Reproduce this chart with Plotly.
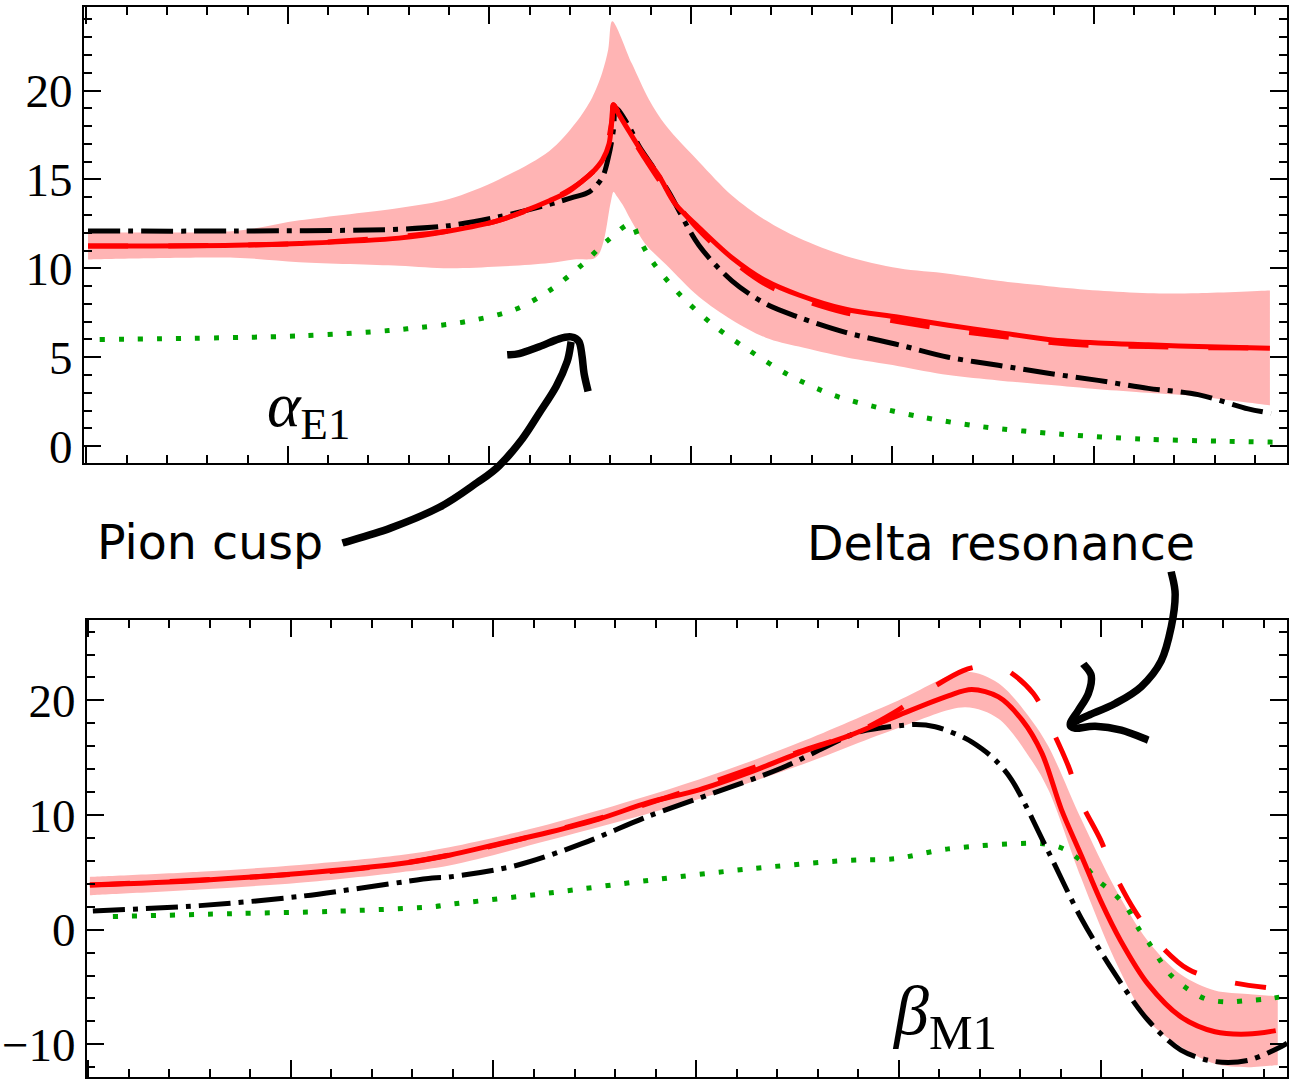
import plotly.graph_objects as go

W, H = 1289, 1090

# ---------------- top panel (alpha_E1) ----------------
top_red_x = [0.4, 36.8, 52.9, 77.6, 90.0, 102.4, 108.5, 114.9, 119.5, 123.0, 125.6, 128.1, 129.7, 130.4, 130.8,
             131.5, 133.9, 138.0, 142.1, 146.2, 152.0, 160.2, 168.6, 176.8, 188.4, 201.6, 213.9, 226.3, 238.7,
             251.1, 263.5, 275.9, 293.7]
top_red_y = [11.25, 11.3, 11.4, 11.7, 12.1, 12.7, 13.2, 13.8, 14.3, 14.9, 15.4, 16.1, 17.0, 18.3, 19.2,
             18.9, 18.0, 16.5, 15.2, 13.6, 12.3, 10.6, 9.3, 8.5, 7.7, 7.25, 6.8, 6.4, 6.0,
             5.8, 5.7, 5.6, 5.5]

top_red_dash_x = [0.4, 52.9, 90.0, 102.4, 114.9, 123.0, 128.1, 130.4, 130.8, 133.9, 138.0, 143.9, 152.0, 160.2,
                  168.6, 176.8, 188.4, 201.6, 213.9, 226.3, 238.7, 251.1, 263.5, 275.9, 293.7]
top_red_dash_y = [11.25, 11.4, 12.1, 12.7, 13.8, 14.9, 16.1, 18.3, 19.2, 17.9, 16.4, 14.4, 12.15, 10.45,
                  9.1, 8.3, 7.5, 7.0, 6.55, 6.2, 5.85, 5.65, 5.6, 5.55, 5.5]

top_band_up_x = [0.4, 36.8, 52.9, 77.6, 90.0, 102.4, 114.9, 121.5, 125.5, 128.0, 129.5, 130.5,
                 135.4, 139.6, 143.9, 152.0, 160.2, 168.6, 176.8, 188.4, 201.6, 213.9, 226.3, 238.7, 251.1,
                 263.5, 275.9, 293.7]
top_band_up_y = [12.05, 12.1, 12.7, 13.4, 13.9, 15.0, 16.6, 18.2, 19.6, 21.0, 22.3, 23.9,
                 21.5, 19.5, 18.0, 16.0, 14.1, 12.7, 11.7, 10.7, 10.0, 9.7, 9.3, 9.0, 8.75,
                 8.6, 8.6, 8.75]
top_band_lo_x = [0.4, 36.8, 52.9, 77.6, 90.0, 102.4, 114.9, 121.0, 126.0, 127.2, 128.2, 128.9, 129.7, 130.2,
                 130.8, 131.5, 133.0, 135.4, 138.6, 143.9, 152.0, 160.2, 168.6, 176.8, 188.4, 201.6, 213.9,
                 226.3, 238.7, 251.1, 263.5, 275.9, 293.7]
top_band_lo_y = [10.5, 10.6, 10.35, 10.15, 10.0, 10.1, 10.3, 10.5, 10.55, 10.8, 11.4, 12.1, 13.2, 13.8,
                 14.3, 14.1, 13.6, 12.6, 11.4, 10.2, 8.4, 7.1, 6.1, 5.6, 5.0, 4.5, 4.0,
                 3.7, 3.45, 3.2, 3.0, 2.8, 2.3]

top_black_x = [0.4, 36.8, 77.6, 90.0, 102.4, 114.9, 120.9, 124.8, 128.0, 129.7, 130.8, 131.4, 134.6, 137.1,
               140.3, 144.5, 152.0, 160.2, 168.6, 176.8, 188.4, 201.6, 213.9, 226.3, 238.7, 251.1, 263.5,
               275.9, 288.3, 294.0]
top_black_y = [12.1, 12.1, 12.2, 12.4, 12.9, 13.6, 14.0, 14.3, 15.1, 16.4, 17.8, 19.0, 18.0, 16.9,
               15.8, 14.3, 11.3, 9.3, 8.0, 7.25, 6.4, 5.7, 5.0, 4.55, 4.1, 3.7, 3.25,
               2.9, 2.1, 1.85]

top_green_x = [3.3, 52.9, 75.0, 79.6, 94.1, 106.5, 114.9, 123.0, 129.0, 135.2, 137.1, 140.4, 147.8, 156.2,
               164.4, 174.3, 185.0, 192.4, 206.5, 222.1, 241.9, 261.8, 281.6, 296.5]
top_green_y = [6.0, 6.2, 6.5, 6.6, 7.0, 7.7, 8.75, 10.2, 11.5, 12.5, 11.7, 10.4, 8.4, 6.7,
               5.4, 4.0, 2.9, 2.4, 1.67, 1.1, 0.67, 0.4, 0.28, 0.22]

top_yticks = [0, 5, 10, 15, 20]

# ---------------- bottom panel (beta_M1) ----------------
bot_red_x = [0.42, 27.5, 52.1, 76.8, 89.1, 101.4, 113.7, 126.0, 138.3, 150.7, 163.0, 175.3, 187.6, 199.9,
             212.2, 218.0, 224.6, 230.4, 235.3, 240.1, 245.0, 249.9, 254.8, 261.5, 269.6, 278.0, 286.1, 293.0]
bot_red_y = [3.9, 4.3, 4.9, 5.75, 6.5, 7.5, 8.5, 9.65, 11.1, 12.2, 13.7, 15.4, 16.9, 18.7,
             20.4, 20.95, 20.3, 18.3, 15.4, 10.5, 6.5, 2.45, -1.0, -4.75, -7.6, -8.9, -9.1, -8.8]

bot_red_dash_x = [0.42, 76.8, 126.0, 175.3, 190.1, 198.7, 207.3, 215.9, 220.9, 225.8, 233.2, 237.6, 241.8,
                  245.0, 249.7, 253.4, 258.3, 264.0, 271.4, 280.7, 290.6]
bot_red_dash_y = [3.9, 5.75, 9.7, 15.5, 17.3, 18.9, 20.9, 22.6, 23.0, 22.8, 20.6, 17.6, 14.3,
                  11.1, 7.9, 4.75, 1.6, -1.15, -3.45, -4.5, -5.05]

bot_band_x = [0.42, 27.5, 52.1, 76.8, 89.1, 113.7, 150.7, 175.3, 199.9, 216.4, 224.6, 232.7, 236.9, 245.0,
              253.4, 261.5, 269.6, 278.0, 286.1, 293.5]
bot_band_up = [4.6, 5.05, 5.65, 6.5, 7.2, 9.2, 13.1, 16.3, 20.0, 22.5, 21.5, 18.3, 16.0, 9.65,
               3.6, -1.0, -3.9, -5.3, -5.6, -5.8]
bot_band_lo = [3.0, 3.5, 4.1, 5.0, 5.6, 7.8, 11.4, 14.3, 17.6, 19.4, 18.4, 14.8, 12.2, 4.5,
               -2.7, -7.9, -10.2, -11.7, -12.0, -11.8]

bot_black_x = [1.16, 27.5, 52.1, 84.9, 89.1, 105.6, 121.8, 138.3, 154.9, 171.1, 187.6, 190.8, 204.1, 209.0,
               216.4, 220.4, 223.8, 227.8, 236.9, 245.0, 253.4, 261.5, 269.6, 278.0, 286.1, 294.3, 295.8]
bot_black_y = [1.64, 2.1, 2.9, 4.5, 4.6, 5.6, 7.5, 9.9, 12.0, 14.1, 16.9, 17.3, 17.9, 17.7,
               16.7, 15.8, 14.8, 13.1, 6.8, 1.0, -3.9, -7.9, -10.5, -11.5, -11.4, -10.2, -9.9]

bot_green_x = [6.1, 35.6, 60.3, 84.9, 89.1, 113.7, 138.3, 163.0, 187.6, 199.2, 212.2, 235.6, 241.0, 245.2,
               248.5, 253.4, 256.6, 259.1, 262.0, 264.5, 267.2, 271.4, 275.8, 280.7, 285.4, 290.6, 295.3]
bot_green_y = [1.15, 1.4, 1.6, 2.0, 2.2, 3.2, 4.3, 5.3, 6.05, 6.2, 7.05, 7.5, 7.0, 5.9,
               4.5, 3.05, 1.75, 0.14, -1.3, -2.7, -4.0, -5.2, -6.05, -6.3, -6.2, -6.05, -5.8]

bot_yticks = [-10, 0, 10, 20]

# ---------------- styles ----------------
RED = "#ff0000"
BAND = "rgb(255,180,180)"
GREEN = "#00a400"
DASHDOT = "32px,8px,5px,8px"
DOTTED = "5px,14px"
DASHED = "40px,40px"
LW = 5
SM = 0.9

fig = go.Figure()


def add_panel(xa, ya, band_x_up, band_up, band_x_lo, band_lo, green, black, rdash, rsol):
    bx_up, by_up = list(band_x_up), list(band_up)
    bx_lo, by_lo = list(band_x_lo)[::-1], list(band_lo)[::-1]
    # duplicate corner points so the smoothed outline keeps sharp vertical ends
    bx = [bx_up[0]] + bx_up + [bx_up[-1]] + [bx_lo[0]] + bx_lo + [bx_lo[-1]]
    by = [by_up[0]] + by_up + [by_up[-1]] + [by_lo[0]] + by_lo + [by_lo[-1]]
    fig.add_trace(go.Scatter(x=bx, y=by, fill="toself", fillcolor=BAND,
                             line=dict(width=0, shape="spline", smoothing=SM), mode="lines",
                             xaxis=xa, yaxis=ya, hoverinfo="skip"))
    fig.add_trace(go.Scatter(x=green[0], y=green[1], mode="lines",
                             line=dict(color=GREEN, width=LW, dash=DOTTED, shape="spline", smoothing=SM),
                             xaxis=xa, yaxis=ya))
    fig.add_trace(go.Scatter(x=black[0], y=black[1], mode="lines",
                             line=dict(color="black", width=LW, dash=DASHDOT, shape="spline", smoothing=SM),
                             xaxis=xa, yaxis=ya))
    fig.add_trace(go.Scatter(x=rdash[0], y=rdash[1], mode="lines",
                             line=dict(color=RED, width=LW, dash=DASHED, shape="spline", smoothing=SM),
                             xaxis=xa, yaxis=ya))
    fig.add_trace(go.Scatter(x=rsol[0], y=rsol[1], mode="lines",
                             line=dict(color=RED, width=LW, shape="spline", smoothing=SM),
                             xaxis=xa, yaxis=ya))


add_panel("x", "y", top_band_up_x, top_band_up_y, top_band_lo_x, top_band_lo_y,
          (top_green_x, top_green_y), (top_black_x, top_black_y),
          (top_red_dash_x, top_red_dash_y), (top_red_x, top_red_y))
add_panel("x2", "y2", bot_band_x, bot_band_up, bot_band_x, bot_band_lo,
          (bot_green_x, bot_green_y), (bot_black_x, bot_black_y),
          (bot_red_dash_x, bot_red_dash_y), (bot_red_x, bot_red_y))

axis_common = dict(showgrid=False, zeroline=False, showline=True, linecolor="black", linewidth=2,
                   mirror="allticks", ticks="inside", ticklen=17, tickwidth=2, tickcolor="black")
tickfont = dict(family="Liberation Serif", size=47, color="black")

fig.update_layout(
    width=W, height=H, margin=dict(l=0, r=0, t=0, b=0),
    paper_bgcolor="white", plot_bgcolor="white", showlegend=False,
    xaxis=dict(domain=[84 / W, 1], range=[-0.62, 297.94], tick0=0, dtick=50, showticklabels=False,
               minor=dict(ticks="inside", ticklen=8, tickwidth=2, dtick=10, tickcolor="black"),
               anchor="y", **axis_common),
    yaxis=dict(domain=[1 - 467 / H, 1 - 7 / H], range=[-0.93, 24.7], tickvals=top_yticks,
               tickfont=tickfont, anchor="x",
               minor=dict(ticks="inside", ticklen=8, tickwidth=2, dtick=1, tickcolor="black"),
               **axis_common),
    xaxis2=dict(domain=[87 / W, 1], range=[-0.32, 295.78], tick0=0, dtick=50, showticklabels=False,
                minor=dict(ticks="inside", ticklen=8, tickwidth=2, dtick=10, tickcolor="black"),
                anchor="y2", **axis_common),
    yaxis2=dict(domain=[1 - 1087 / H, 1 - 626 / H], range=[-12.85, 26.99], tickvals=bot_yticks,
                tickfont=tickfont, anchor="x2",
                minor=dict(ticks="inside", ticklen=8, tickwidth=2, dtick=2, tickcolor="black"),
                **axis_common),
)


def P(px, py):
    return px / W, 1 - py / H


def smooth_path(pts):
    # Catmull-Rom through pixel points -> cubic Bezier path in paper coords
    q = [P(*p) for p in pts]
    d = "M %.5f,%.5f" % q[0]
    for i in range(len(q) - 1):
        p0 = q[i - 1] if i > 0 else q[i]
        p1 = q[i]
        p2 = q[i + 1]
        p3 = q[i + 2] if i + 2 < len(q) else q[i + 1]
        c1 = (p1[0] + (p2[0] - p0[0]) / 6, p1[1] + (p2[1] - p0[1]) / 6)
        c2 = (p2[0] - (p3[0] - p1[0]) / 6, p2[1] - (p3[1] - p1[1]) / 6)
        d += " C %.5f,%.5f %.5f,%.5f %.5f,%.5f" % (c1[0], c1[1], c2[0], c2[1], p2[0], p2[1])
    return d


arrow_strokes = [
    [(343, 548), (391, 533), (440, 512), (478, 487), (500, 470), (523, 443), (540, 417), (557, 390),
     (568, 365), (572, 345)],
    [(508, 358), (520, 357), (540, 350), (560, 342), (572, 340), (580, 345), (583, 360), (585, 377),
     (589, 395)],
    [(1173, 577), (1177, 600), (1173, 633), (1163, 667), (1143, 693), (1117, 710), (1090, 722),
     (1073, 730)],
    [(1085, 670), (1093, 682), (1090, 700), (1080, 717), (1072, 730), (1077, 735), (1097, 733),
     (1123, 737), (1150, 747)],
]
for s in arrow_strokes:
    fig.add_shape(type="path", path=smooth_path(s), xref="paper", yref="paper",
                  line=dict(color="black", width=7.5))

serif_a = dict(family="Liberation Serif", color="black", size=64)
serif_b = dict(family="Liberation Serif", color="black", size=70)
sans = dict(family="DejaVu Sans", color="black", size=47.5)
ann = [
    dict(text="<i>α</i><sub>E1</sub>", x=265 / W, y=1 - 413 / H, xanchor="left", yanchor="middle", font=serif_a),
    dict(text="<i>β</i><sub>M1</sub>", x=891 / W, y=1 - 1025 / H, xanchor="left", yanchor="middle", font=serif_b),
    dict(text="Pion cusp", x=95 / W, y=1 - 548 / H, xanchor="left", yanchor="middle", font=sans),
    dict(text="Delta resonance", x=806 / W, y=1 - 549 / H, xanchor="left", yanchor="middle", font=sans),
]
for a in ann:
    fig.add_annotation(xref="paper", yref="paper", showarrow=False, **a)

fig.write_html("out.html")
